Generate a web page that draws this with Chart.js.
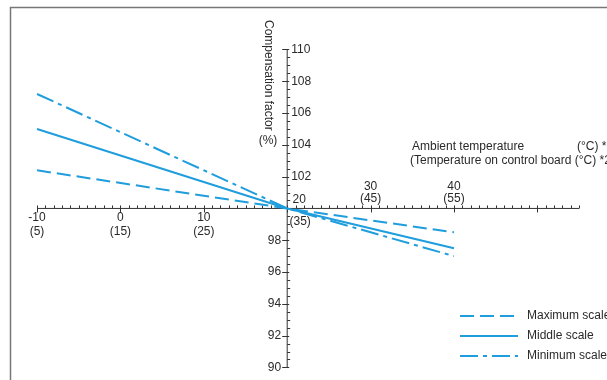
<!DOCTYPE html>
<html lang="en">
<head>
<meta charset="UTF-8">
<title>Compensation factor</title>
<script src="https://cdn.jsdelivr.net/npm/chart.js"></script>
<style>
  html, body { margin: 0; padding: 0; background: #fff; }
  #wrap { width: 607px; height: 380px; position: relative; }
</style>
</head>
<body>
<div id="wrap"><canvas id="chart" width="607" height="380"></canvas></div>
<script>
// temperatures (ambient, °C) where the lines are defined
const temps = [-10, 20, 40];
const maxScale = [102.4, 100, 98.5];
const middleScale = [105.0, 100, 97.5];
const minScale = [107.2, 100, 97.0];

const xTicks = [-10, 0, 10, 20, 30, 40];
const xSubLabels = ["(5)", "(15)", "(25)", "(35)", "(45)", "(55)"];
const yTicks = [90, 92, 94, 96, 98, 102, 104, 106, 108, 110];

const BLUE = "#1f9ddd";
const FONT = '"Liberation Sans", Arial, sans-serif';
const TXT = "#2a2a2a";

const seriesStyles = [
  { label: "Maximum scale", data: maxScale, dash: [14, 6] },
  { label: "Middle scale", data: middleScale, dash: [] },
  { label: "Minimum scale", data: minScale, dash: [18, 5, 4, 5] }
];

function toPoints(arr) {
  return temps.map((t, i) => ({ x: t, y: arr[i] }));
}

const axesPlugin = {
  id: "crossAxes",
  beforeDatasetsDraw(chart) {
    const ctx = chart.ctx;
    const xs = chart.scales.x, ys = chart.scales.y;
    const ax = xs.getPixelForValue(20);
    const ay = ys.getPixelForValue(100);
    ctx.save();

    // frame
    ctx.strokeStyle = "#777";
    ctx.lineWidth = 1.5;
    ctx.beginPath();
    ctx.moveTo(10.5, 380);
    ctx.lineTo(10.5, 7.5);
    ctx.lineTo(607, 7.5);
    ctx.stroke();

    ctx.strokeStyle = "#333";
    ctx.lineWidth = 1;
    // x axis
    ctx.beginPath();
    ctx.moveTo(xs.getPixelForValue(-10), ay);
    ctx.lineTo(xs.getPixelForValue(55), ay);
    for (let v = -10; v <= 55; v++) {
      const px = Math.round(xs.getPixelForValue(v)) + 0.5;
      if (v % 10 === 0) {
        ctx.moveTo(px, ay - 3);
        ctx.lineTo(px, ay + 4);
      } else {
        ctx.moveTo(px, ay - 3);
        ctx.lineTo(px, ay);
      }
    }
    // y axis
    ctx.moveTo(ax, ys.getPixelForValue(110));
    ctx.lineTo(ax, ys.getPixelForValue(90));
    for (let k = 0; k <= 40; k++) {
      const v = 90 + k * 0.5;
      const py = Math.round(ys.getPixelForValue(v)) + 0.5;
      if (k % 4 === 0) {
        ctx.moveTo(ax - 5, py);
        ctx.lineTo(ax + 2, py);
      } else {
        ctx.moveTo(ax, py);
        ctx.lineTo(ax + 3, py);
      }
    }
    ctx.stroke();

    // tick labels
    ctx.fillStyle = TXT;
    ctx.font = "12px " + FONT;
    ctx.textAlign = "center";
    ctx.textBaseline = "middle";
    xTicks.forEach((t, i) => {
      const px = xs.getPixelForValue(t);
      if (t === 20) {
        ctx.fillText(String(t), px + 12, ay - 9);
        ctx.fillText(xSubLabels[i], px + 13, ay + 13);
      } else if (t > 20) {
        ctx.fillText(String(t), px, ay - 22);
        ctx.fillText(xSubLabels[i], px, ay - 10);
      } else {
        ctx.fillText(String(t), px, ay + 9);
        ctx.fillText(xSubLabels[i], px, ay + 23);
      }
    });
    yTicks.forEach(v => {
      const py = ys.getPixelForValue(v);
      if (v > 100) {
        ctx.textAlign = "left";
        ctx.fillText(String(v), ax + 4, py);
      } else {
        ctx.textAlign = "right";
        ctx.fillText(String(v), ax - 6, py);
      }
    });

    // y axis title (rotated)
    ctx.save();
    ctx.translate(268, 20);
    ctx.rotate(Math.PI / 2);
    ctx.textAlign = "left";
    ctx.textBaseline = "middle";
    ctx.font = "12px " + FONT;
    ctx.fillText("Compensation factor", 0, 0);
    ctx.restore();
    ctx.textAlign = "center";
    ctx.fillText("(%)", 268, 141);

    // x axis annotation
    ctx.font = "12px " + FONT;
    ctx.textAlign = "left";
    ctx.fillText("Ambient temperature", 412, 147);
    ctx.fillText("(°C) *1", 577, 147);
    ctx.fillText("(Temperature on control board (°C) *2", 410, 161);
    ctx.restore();
  },
  afterDatasetsDraw(chart) {
    const ctx = chart.ctx;
    ctx.save();
    ctx.font = "12px " + FONT;
    ctx.textBaseline = "middle";
    ctx.textAlign = "left";
    seriesStyles.forEach((s, i) => {
      const y = 316 + i * 20;
      ctx.strokeStyle = BLUE;
      ctx.lineWidth = 2;
      ctx.setLineDash(s.dash);
      ctx.beginPath();
      ctx.moveTo(460, y);
      ctx.lineTo(518, y);
      ctx.stroke();
      ctx.setLineDash([]);
      ctx.fillStyle = TXT;
      ctx.fillText(s.label, 527, y);
    });
    ctx.restore();
  }
};

new Chart(document.getElementById("chart"), {
  type: "line",
  data: {
    datasets: seriesStyles.map(s => ({
      label: s.label,
      data: toPoints(s.data),
      borderColor: BLUE,
      borderWidth: 2,
      borderDash: s.dash,
      pointRadius: 0,
      fill: false,
      tension: 0
    }))
  },
  options: {
    responsive: false,
    animation: false,
    devicePixelRatio: 1,
    layout: { padding: 0 },
    plugins: { legend: { display: false }, tooltip: { enabled: false } },
    scales: {
      x: { type: "linear", display: false, min: -14.44, max: 58.35 },
      y: { type: "linear", display: false, min: 89.21, max: 113.11 }
    }
  },
  plugins: [axesPlugin]
});
</script>
</body>
</html>
